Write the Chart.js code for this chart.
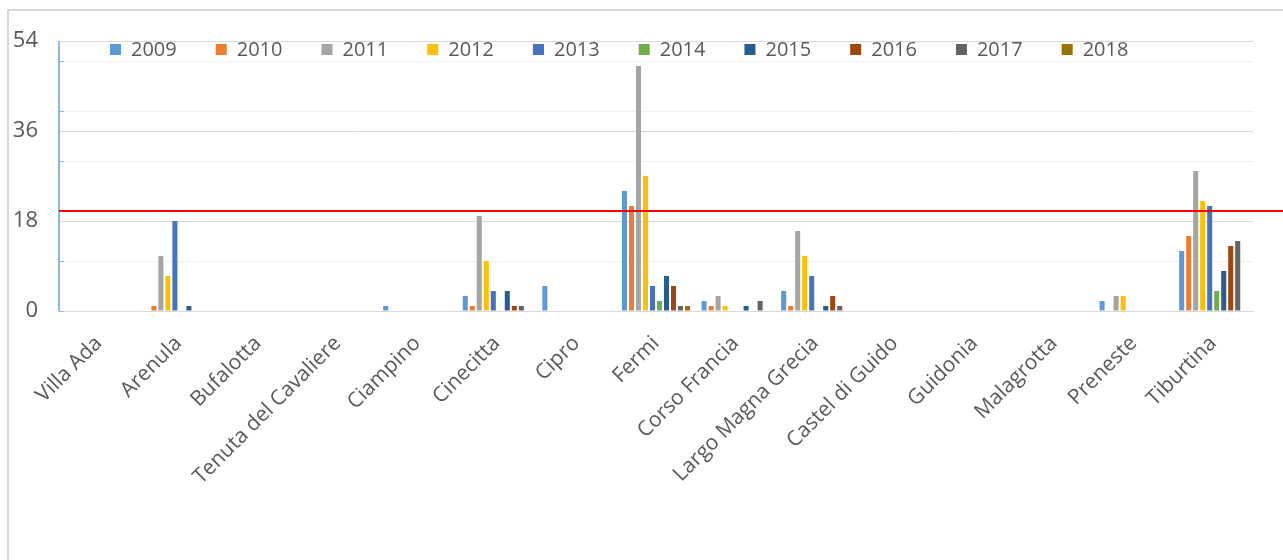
<!DOCTYPE html>
<html>
<head>
<meta charset="utf-8">
<script src="https://cdn.jsdelivr.net/npm/chart.js@4/dist/chart.umd.min.js"></script>
<style>
    html, body { margin: 0; padding: 0; background: #ffffff; }
    #wrap { position: relative; width: 1283px; height: 560px; overflow: hidden; }
    #frame {
        position: absolute; left: 7px; top: 9px; width: 1300px; height: 600px;
        border-top: 2px solid #d9d9d9; border-left: 2px solid #d9d9d9;
    }
    canvas { position: absolute; left: 0; top: 0; }
</style>
</head>
<body>
<div id="wrap">
    <div id="frame"></div>
    <canvas id="stationChart" width="1283" height="560"></canvas>
</div>
<script>
const stations = ["Villa Ada", "Arenula", "Bufalotta", "Tenuta del Cavaliere", "Ciampino", "Cinecitta", "Cipro",
    "Fermi", "Corso Francia", "Largo Magna Grecia", "Castel di Guido", "Guidonia", "Malagrotta", "Preneste", "Tiburtina"];

const years = ["2009", "2010", "2011", "2012", "2013", "2014", "2015", "2016", "2017", "2018"];

const v2009 = [null, null, null, null, 1, 3, 5, 24, 2, 4, null, null, null, 2, 12];
const v2010 = [null, 1, null, null, null, 1, null, 21, 1, 1, null, null, null, null, 15];
const v2011 = [null, 11, null, null, null, 19, null, 49, 3, 16, null, null, null, 3, 28];
const v2012 = [null, 7, null, null, null, 10, null, 27, 1, 11, null, null, null, 3, 22];
const v2013 = [null, 18, null, null, null, 4, null, 5, null, 7, null, null, null, null, 21];
const v2014 = [null, null, null, null, null, null, null, 2, null, null, null, null, null, null, 4];
const v2015 = [null, 1, null, null, null, 4, null, 7, 1, 1, null, null, null, null, 8];
const v2016 = [null, null, null, null, null, 1, null, 5, null, 3, null, null, null, null, 13];
const v2017 = [null, null, null, null, null, 1, null, 1, 2, 1, null, null, null, null, 14];
const v2018 = [null, null, null, null, null, null, null, 1, null, null, null, null, null, null, null];

const yTicks = [0, 18, 36, 54];
const limitValue = 20;

const seriesValues = [v2009, v2010, v2011, v2012, v2013, v2014, v2015, v2016, v2017, v2018];
const colors = ["#5b9bd5", "#ed7d31", "#a5a5a5", "#ffc000", "#4472c4", "#70ad47", "#255e91", "#9e480e", "#636363", "#997300"];

const FONT = "'Open Sans', 'DejaVu Sans', sans-serif";
const TEXT = "#595959";
const AXIS_BLUE = "#8db8e2";

// red limit line (runs past the plot to the right edge) + small inside ticks every 10
const limitLine = {
    id: "limitLine",
    afterDatasetsDraw(chart) {
        const ctx = chart.ctx;
        const area = chart.chartArea;
        const y = chart.scales.y.getPixelForValue(limitValue);
        ctx.save();
        ctx.strokeStyle = AXIS_BLUE;
        ctx.lineWidth = 1;
        chart.scales.y2.ticks.forEach(t => {
            const ty = Math.round(chart.scales.y2.getPixelForValue(t.value)) + 0.5;
            ctx.beginPath();
            ctx.moveTo(area.left, ty);
            ctx.lineTo(area.left + 5, ty);
            ctx.stroke();
        });
        // axis line on top so it stays visible
        ctx.lineWidth = 2;
        ctx.beginPath();
        ctx.moveTo(area.left, area.top);
        ctx.lineTo(area.left, area.bottom);
        ctx.stroke();

        ctx.strokeStyle = "#ff0000";
        ctx.lineWidth = 2;
        ctx.beginPath();
        ctx.moveTo(area.left, y);
        ctx.lineTo(chart.width, y);
        ctx.stroke();
        ctx.restore();
    }
};

// legend drawn inside the plot area, like the original
const insideLegend = {
    id: "insideLegend",
    afterDraw(chart) {
        const ctx = chart.ctx;
        const area = chart.chartArea;
        let x = area.left + 51;
        const y = area.top + 8;
        ctx.save();
        ctx.font = "20px " + FONT;
        ctx.textBaseline = "middle";
        chart.data.datasets.forEach(ds => {
            ctx.fillStyle = ds.backgroundColor;
            ctx.fillRect(x, y - 5, 11, 11);
            ctx.fillStyle = TEXT;
            ctx.fillText(ds.label, x + 21, y + 1);
            x += 21 + ctx.measureText(ds.label).width + 39;
        });
        ctx.restore();
    }
};

const datasets = years.map((year, i) => ({
    label: year,
    data: seriesValues[i],
    backgroundColor: colors[i],
    categoryPercentage: 0.88,
    barPercentage: 0.72
}));

new Chart(document.getElementById("stationChart"), {
    type: "bar",
    data: { labels: stations, datasets: datasets },
    plugins: [limitLine, insideLegend],
    options: {
        responsive: false,
        animation: false,
        layout: { padding: { left: 0, right: 30, top: 41, bottom: 0 } },
        plugins: {
            legend: { display: false },
            tooltip: { enabled: false }
        },
        scales: {
            x: {
                grid: { display: false },
                border: { color: "#d9d9d9", width: 1 },
                ticks: {
                    color: TEXT,
                    font: { family: FONT, size: 21 },
                    minRotation: 45,
                    maxRotation: 45,
                    autoSkip: false,
                    padding: 12
                },
                afterFit(scale) { scale.height = 249; }
            },
            y: {
                min: 0,
                max: 54,
                afterBuildTicks(scale) { scale.ticks = yTicks.map(v => ({ value: v })); },
                grid: { color: "#d9d9d9", drawTicks: false },
                border: { display: false },
                ticks: { color: TEXT, font: { family: FONT, size: 22 }, padding: 21 },
                afterFit(scale) { scale.width = 59; }
            },
            y2: {
                position: "left",
                min: 0,
                max: 54,
                afterBuildTicks(scale) { scale.ticks = scale.ticks.filter(t => t.value % 10 === 0); },
                ticks: { display: false, stepSize: 10 },
                grid: { color: "#f0f0f0", drawTicks: false },
                border: { display: false },
                afterFit(scale) { scale.width = 0; }
            }
        }
    }
});
</script>
</body>
</html>
